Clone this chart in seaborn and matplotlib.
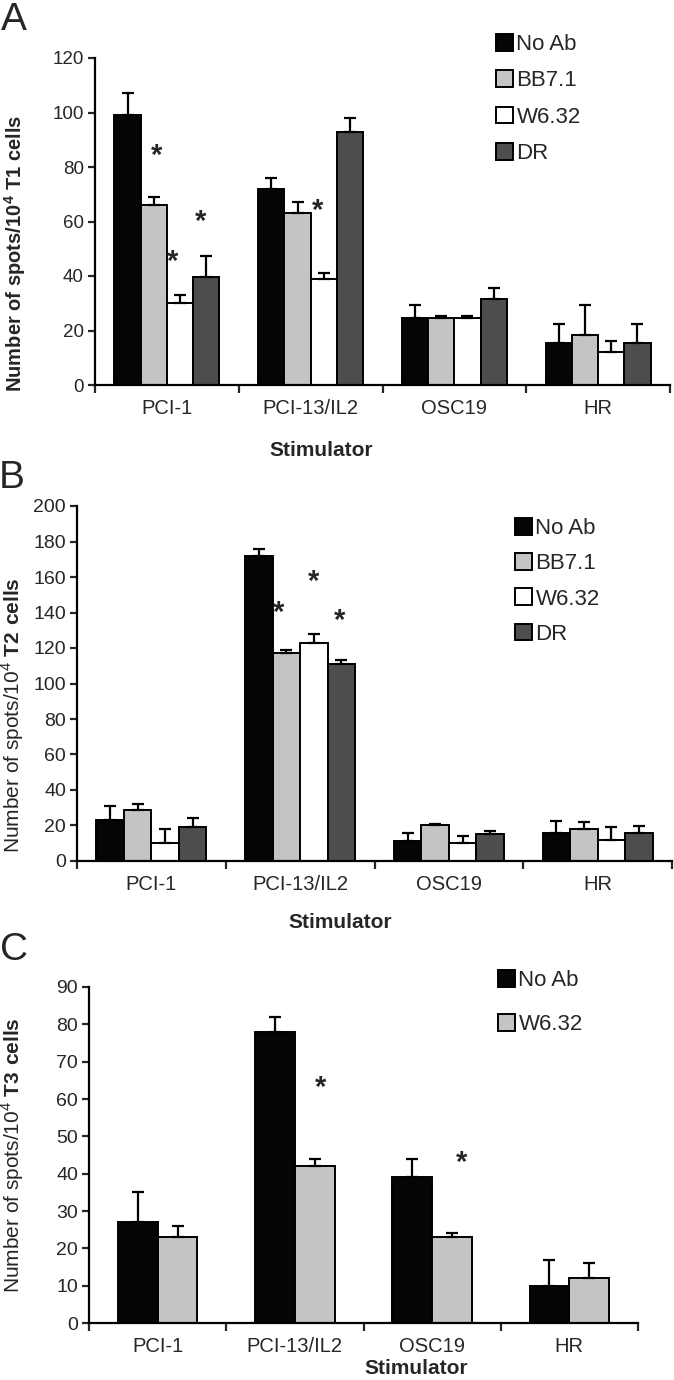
import numpy as np
import pandas as pd
import matplotlib
matplotlib.use("Agg")
import matplotlib.pyplot as plt
import seaborn as sns

# --- data ---
stimulators = ["PCI-1", "PCI-13/IL2", "OSC19", "HR"]

# panel A: T1 cells
t1_antibodies = ["No Ab", "BB7.1", "W6.32", "DR"]
t1_no_ab = [99, 72, 24.5, 15.5]
t1_no_ab_err = [8, 4, 5, 7]
t1_bb71 = [66, 63, 24.5, 18.5]
t1_bb71_err = [3, 4, 1, 11]
t1_w632 = [30, 39, 24.5, 12]
t1_w632_err = [3, 2, 1, 4]
t1_dr = [39.5, 93, 31.5, 15.5]
t1_dr_err = [8, 5, 4, 7]
t1_stars = [("PCI-1", "BB7.1", 84), ("PCI-1", "W6.32", 45),
            ("PCI-1", "DR", 60), ("PCI-13/IL2", "W6.32", 64)]

# panel B: T2 cells
t2_antibodies = ["No Ab", "BB7.1", "W6.32", "DR"]
t2_no_ab = [23, 172, 11, 15.5]
t2_no_ab_err = [8, 4, 5, 7]
t2_bb71 = [29, 117, 20, 18]
t2_bb71_err = [3, 2, 1, 4]
t2_w632 = [10, 123, 10, 12]
t2_w632_err = [8, 5, 4, 7]
t2_dr = [19, 111, 15, 15.5]
t2_dr_err = [5, 2, 2, 4]
t2_stars = [("PCI-13/IL2", "BB7.1", 140), ("PCI-13/IL2", "W6.32", 157),
            ("PCI-13/IL2", "DR", 135)]

# panel C: T3 cells
t3_antibodies = ["No Ab", "W6.32"]
t3_no_ab = [27, 78, 39, 10]
t3_no_ab_err = [8, 4, 5, 7]
t3_w632 = [23, 42, 23, 12]
t3_w632_err = [3, 2, 1, 4]
t3_stars = [("PCI-13/IL2", "W6.32", 63), ("OSC19", "W6.32", 43)]

sns.set_style("ticks")
plt.rcParams['font.family'] = ['Liberation Sans', 'DejaVu Sans']
plt.rcParams['mathtext.fontset'] = 'custom'
plt.rcParams['mathtext.rm'] = 'Liberation Sans'
plt.rcParams['mathtext.bf'] = 'Liberation Sans:bold'

W, H = 674, 1380
fig = plt.figure(figsize=(W / 100, H / 100), dpi=100)


def rect(l, t, r, b):
    return [l / W, 1 - b / H, (r - l) / W, (b - t) / H]


def draw_panel(ax, means, errs, antibodies, colors, width, ymax, ystep,
               stars, star_dx, ytick_size, legend_xy, legend_spacing):
    df = pd.DataFrame([
        {"stim": s, "ab": ab, "val": v}
        for ab in antibodies for s, v in zip(stimulators, means[ab])
    ])
    sns.barplot(data=df, x="stim", y="val", hue="ab", order=stimulators,
                hue_order=antibodies, palette=colors, width=width,
                saturation=1, edgecolor="black", linewidth=1.4,
                errorbar=None, ax=ax)

    # upper-only error bars, on top of the bars seaborn placed
    centers = {}
    for cont, ab in zip(ax.containers, antibodies):
        for bar, s, e in zip(cont, stimulators, errs[ab]):
            x = bar.get_x() + bar.get_width() / 2
            h = bar.get_height()
            centers[(s, ab)] = (x, bar.get_width())
            ax.errorbar(x, h, yerr=[[0], [e]], fmt="none", ecolor="black",
                        elinewidth=1.6, capsize=4.5, capthick=1.6, zorder=3)

    for (s, ab, y), dx in zip(stars, star_dx):
        x, bw = centers[(s, ab)]
        ax.text(x + dx * bw, y, "*", ha="center", va="center",
                fontsize=21, fontweight="bold")

    ax.set_ylim(0, ymax)
    ax.set_yticks(np.arange(0, ymax + 1, ystep))
    ax.set_xlim(-0.5, len(stimulators) - 0.5)
    ax.set_xticks(np.arange(-0.5, len(stimulators), 1))
    ax.set_xticklabels([])
    ax.set_xticks(range(len(stimulators)), minor=True)
    ax.set_xticklabels(stimulators, minor=True, fontsize=14.5)
    ax.tick_params(axis="x", which="minor", length=0, pad=10)
    ax.tick_params(axis="x", which="major", length=6, width=1.6)
    ax.tick_params(axis="y", length=5, width=1.6, labelsize=ytick_size, pad=3)
    ax.set_xlabel("")
    ax.set_ylabel("")
    for sp in ["top", "right"]:
        ax.spines[sp].set_visible(False)
    for sp in ["left", "bottom"]:
        ax.spines[sp].set_linewidth(1.6)
        ax.spines[sp].set_color("black")

    leg = ax.get_legend()
    handles = leg.legend_handles
    labels = [t.get_text() for t in leg.get_texts()]
    leg.remove()
    ax.legend(handles, labels, loc="upper left",
              bbox_to_anchor=(legend_xy[0] / W, 1 - legend_xy[1] / H),
              bbox_transform=fig.transFigure, frameon=False, fontsize=16,
              handlelength=0.77, handleheight=0.77, handletextpad=0.15,
              labelspacing=legend_spacing, borderpad=0, borderaxespad=0)


# Panel A
axA = fig.add_axes(rect(95, 58, 670, 385))
draw_panel(axA,
           {"No Ab": t1_no_ab, "BB7.1": t1_bb71, "W6.32": t1_w632, "DR": t1_dr},
           {"No Ab": t1_no_ab_err, "BB7.1": t1_bb71_err, "W6.32": t1_w632_err, "DR": t1_dr_err},
           t1_antibodies, ["#050505", "#c4c4c4", "#ffffff", "#4d4d4d"],
           0.73, 120, 20, t1_stars, [0.1, -0.28, -0.2, -0.25], 13.5,
           (496, 34), 0.69)

# Panel B
axB = fig.add_axes(rect(77, 506, 672, 861))
draw_panel(axB,
           {"No Ab": t2_no_ab, "BB7.1": t2_bb71, "W6.32": t2_w632, "DR": t2_dr},
           {"No Ab": t2_no_ab_err, "BB7.1": t2_bb71_err, "W6.32": t2_w632_err, "DR": t2_dr_err},
           t2_antibodies, ["#050505", "#c4c4c4", "#ffffff", "#4d4d4d"],
           0.74, 200, 20, t2_stars, [-0.28, 0.0, -0.07], 14,
           (515, 518), 0.64)

# Panel C
axC = fig.add_axes(rect(89, 987, 638, 1323))
draw_panel(axC,
           {"No Ab": t3_no_ab, "W6.32": t3_w632},
           {"No Ab": t3_no_ab_err, "W6.32": t3_w632_err},
           t3_antibodies, ["#050505", "#c4c4c4"],
           0.58, 90, 10, t3_stars, [0.15, 0.25], 14,
           (498, 970), 1.05)

# panel letters, axis titles
for letter, (x, y) in zip("ABC", [(14, 20), (12, 478), (14, 950)]):
    fig.text(x / W, 1 - y / H, letter, ha="center", va="center", fontsize=28)

for (x, y) in [(321, 450), (340, 923), (416, 1368)]:
    fig.text(x / W, 1 - y / H, "Stimulator", ha="center", va="center",
             fontsize=15, fontweight="bold")

fig.text(15 / W, 1 - 253 / H, r"Number of spots/10$^{\mathbf{4}}$ T1 cells",
         rotation=90, ha="center", va="center", fontsize=14.5, fontweight="bold")
fig.text(13 / W, 1 - 715 / H, r"Number of spots/10$^4$ $\mathbf{T2\ cells}$",
         rotation=90, ha="center", va="center", fontsize=15)
fig.text(13 / W, 1 - 1155 / H, r"Number of spots/10$^4$ $\mathbf{T3\ cells}$",
         rotation=90, ha="center", va="center", fontsize=15)

fig.savefig("out.png", dpi=100, facecolor="white")
